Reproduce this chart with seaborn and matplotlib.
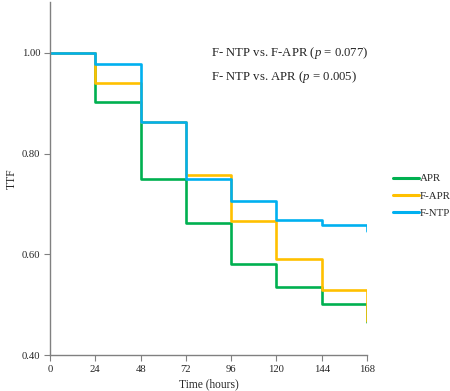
import pandas as pd
import seaborn as sns
import matplotlib.pyplot as plt

# step data (last two points give the final drop at 168 h)
hours = [0, 24, 48, 72, 96, 120, 144, 168, 168]
apr = [1.00, 0.903, 0.749, 0.663, 0.582, 0.536, 0.502, 0.502, 0.467]
f_apr = [1.00, 0.939, 0.862, 0.758, 0.666, 0.590, 0.530, 0.530, 0.468]
f_ntp = [1.00, 0.977, 0.862, 0.749, 0.706, 0.669, 0.659, 0.659, 0.646]
groups = ["APR", "F-APR", "F-NTP"]
colors = ["#00B050", "#FFC000", "#00B0F0"]
xticks = [0, 24, 48, 72, 96, 120, 144, 168]
yticks = [0.40, 0.60, 0.80, 1.00]

df = pd.concat([
    pd.DataFrame({"hours": hours, "TTF": vals, "group": g})
    for g, vals in zip(groups, [apr, f_apr, f_ntp])
], ignore_index=True)

sns.set_style("white")
plt.rcParams["font.family"] = ["Liberation Serif", "DejaVu Serif"]
plt.rcParams["mathtext.fontset"] = "custom"
plt.rcParams["mathtext.rm"] = "Liberation Serif"
plt.rcParams["mathtext.it"] = "Liberation Serif:italic"

fig = plt.figure(figsize=(4.5, 3.91), dpi=100)
ax = fig.add_axes([50 / 450, 1 - 355.3 / 391, 317 / 450, 353 / 391])

sns.lineplot(data=df, x="hours", y="TTF", hue="group", hue_order=groups,
             palette=colors, estimator=None, sort=False, drawstyle="steps-post",
             linewidth=1.9, ax=ax, legend=True)

ax.set_xlim(0, 168)
ax.set_ylim(0.40, 1.10)
ax.set_xticks(xticks)
ax.set_xticklabels([str(t) for t in xticks], fontsize=7.7)
ax.set_yticks(yticks)
ax.set_yticklabels([f"{t:.2f}" for t in yticks], fontsize=7.7)
ax.tick_params(axis="both", direction="out", length=4, width=0.8,
               color="#808080", bottom=True, left=True, pad=3)
for s in ["top", "right"]:
    ax.spines[s].set_visible(False)
for s in ["left", "bottom"]:
    ax.spines[s].set_color("#808080")
    ax.spines[s].set_linewidth(1.0)

ax.set_xlabel("Time (hours)", fontsize=8.3, labelpad=3)
ax.set_ylabel("TTF", fontsize=8.3, labelpad=3)

ax.text(0.508, 0.855, r"F- NTP vs. F-APR ($\mathit{p}$ = 0.077)", transform=ax.transAxes,
        fontsize=9.2, va="center", ha="left")
ax.text(0.508, 0.787, r"F- NTP vs. APR ($\mathit{p}$ = 0.005)", transform=ax.transAxes,
        fontsize=9.2, va="center", ha="left")

leg = ax.legend(loc="center left", bbox_to_anchor=(393 / 450, 1 - 196 / 391),
                bbox_transform=fig.transFigure, frameon=False, fontsize=7.8,
                handlelength=2.4, handletextpad=0.1, labelspacing=0.72,
                borderpad=0, borderaxespad=0, title=None)
for line in leg.get_lines():
    line.set_linewidth(2.2)

fig.savefig("out.png", dpi=100)
